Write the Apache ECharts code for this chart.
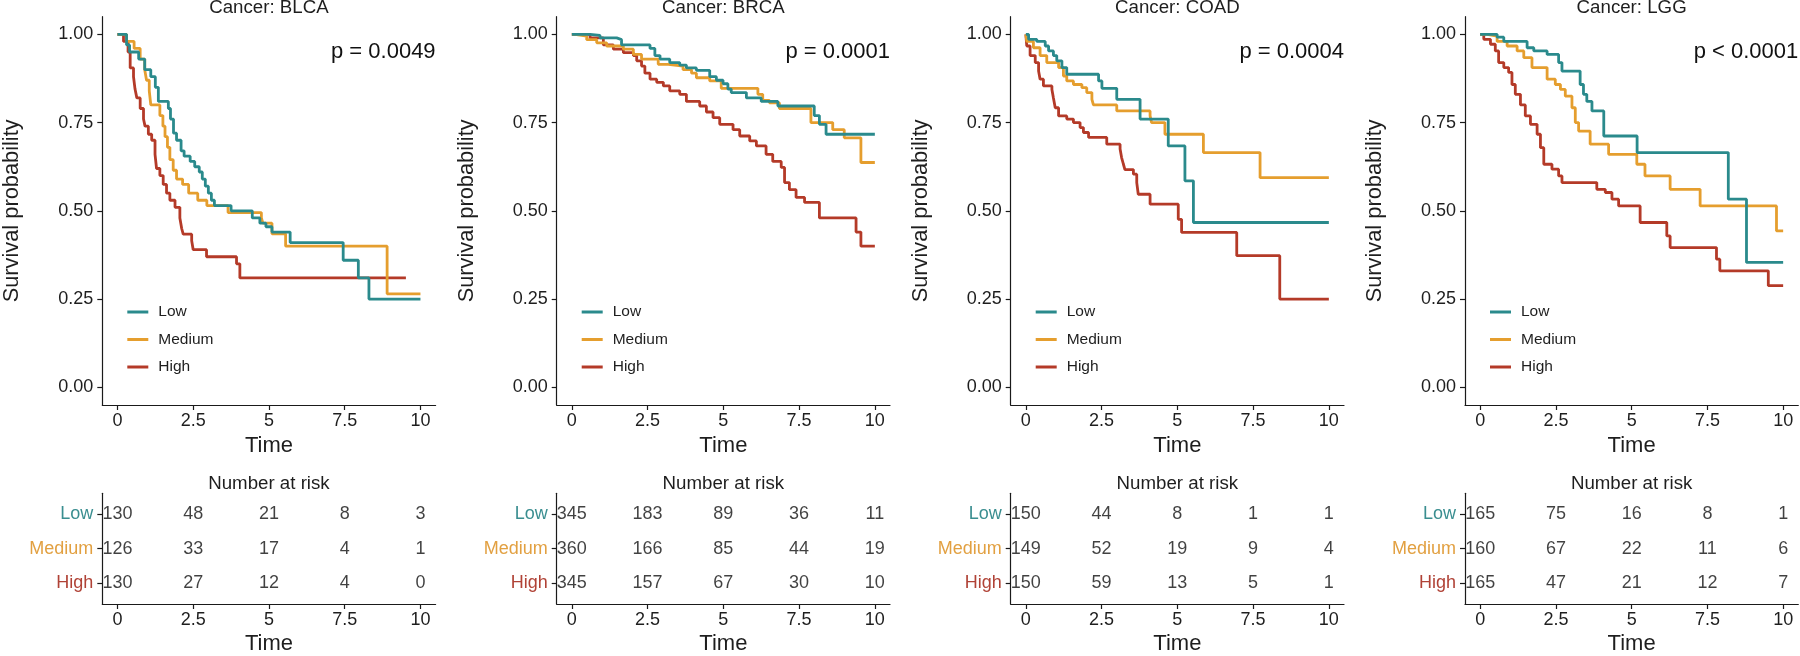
<!DOCTYPE html>
<html>
<head>
<meta charset="utf-8">
<script src="https://cdn.jsdelivr.net/npm/echarts@6/dist/echarts.min.js"></script>
<style>html,body{margin:0;padding:0;background:#fff}#c{width:1800px;height:656px}</style>
</head>
<body>
<div id="c"></div>
<script>
// ---------- data ----------
const cancers = ['BLCA', 'BRCA', 'COAD', 'LGG'];
const groups = ['Low', 'Medium', 'High'];
const groupColors = ['#2A8A8C', '#E59E2E', '#B43A28'];
const groupTextColors = ['#3A8E90', '#E2A041', '#B04236'];
const timeTicks = [0, 2.5, 5, 7.5, 10];
const survTicks = [0, 0.25, 0.5, 0.75, 1];
const pValues = ['p = 0.0049', 'p = 0.0001', 'p = 0.0004', 'p < 0.0001'];

// Kaplan-Meier curves: [time, survival]
const blcaLow = [[0,1],[0.3,0.97],[0.4,0.95],[0.7,0.93],[0.9,0.90],[1.1,0.88],[1.25,0.85],[1.35,0.81],[1.68,0.79],[1.75,0.76],[1.85,0.72],[1.95,0.70],[2.1,0.67],[2.2,0.655],[2.4,0.64],[2.55,0.625],[2.7,0.61],[2.8,0.59],[2.9,0.57],[3.0,0.55],[3.1,0.53],[3.2,0.515],[3.75,0.50],[4.45,0.48],[4.7,0.465],[4.9,0.455],[5.1,0.44],[5.7,0.41],[7.45,0.36],[7.95,0.31],[8.3,0.25],[10,0.25]];
const blcaMedium = [[0,1],[0.3,0.98],[0.55,0.96],[0.75,0.93],[0.9,0.90],[0.96,0.87],[1.05,0.84],[1.1,0.80],[1.4,0.77],[1.5,0.74],[1.57,0.71],[1.65,0.68],[1.73,0.645],[1.84,0.615],[1.95,0.59],[2.15,0.575],[2.35,0.55],[2.65,0.53],[2.95,0.515],[3.65,0.495],[4.75,0.48],[4.8,0.465],[5.1,0.435],[5.55,0.40],[8.9,0.265],[10,0.265]];
const blcaHigh = [[0,1],[0.2,0.98],[0.35,0.95],[0.42,0.905],[0.53,0.88],[0.58,0.845],[0.64,0.82],[0.75,0.79],[0.86,0.76],[0.91,0.74],[1.02,0.717],[1.13,0.70],[1.24,0.66],[1.29,0.62],[1.40,0.60],[1.51,0.575],[1.62,0.55],[1.73,0.53],[1.9,0.51],[2.06,0.48],[2.12,0.45],[2.17,0.434],[2.45,0.415],[2.5,0.39],[2.94,0.37],[3.93,0.35],[4.04,0.31],[9.52,0.31]];

const brcaLow = [[0,1],[0.6,0.997],[0.93,0.99],[1.48,0.985],[1.64,0.97],[2.58,0.96],[2.74,0.94],[2.91,0.93],[3.23,0.92],[3.56,0.913],[3.78,0.905],[4.11,0.898],[4.55,0.88],[4.77,0.87],[4.99,0.86],[5.15,0.845],[5.26,0.835],[5.76,0.82],[6.25,0.81],[6.8,0.797],[8.0,0.77],[8.17,0.745],[8.39,0.717],[10,0.717]];
const brcaMedium = [[0,1],[0.1,0.995],[0.49,0.985],[0.82,0.976],[1.15,0.967],[1.7,0.958],[2.03,0.943],[2.3,0.93],[2.85,0.915],[3.18,0.91],[3.67,0.90],[3.95,0.89],[4.11,0.877],[4.55,0.868],[4.93,0.847],[6.14,0.83],[6.3,0.813],[6.52,0.806],[6.85,0.79],[7.89,0.75],[8.61,0.73],[8.99,0.707],[9.54,0.637],[10,0.637]];
const brcaHigh = [[0,1],[0.6,0.99],[1.04,0.97],[1.37,0.958],[1.7,0.948],[2.03,0.94],[2.14,0.925],[2.3,0.91],[2.41,0.89],[2.58,0.873],[2.8,0.864],[3.02,0.854],[3.23,0.84],[3.56,0.83],[3.78,0.81],[4.22,0.797],[4.44,0.78],[4.66,0.764],[4.88,0.745],[5.32,0.73],[5.54,0.712],[5.87,0.698],[6.09,0.684],[6.41,0.66],[6.63,0.64],[6.91,0.623],[7.02,0.58],[7.18,0.56],[7.4,0.538],[7.68,0.524],[8.17,0.48],[9.38,0.44],[9.54,0.40],[10,0.40]];

const coadLow = [[0,1],[0.09,0.986],[0.36,0.98],[0.64,0.967],[0.75,0.953],[0.91,0.94],[1.02,0.925],[1.19,0.906],[1.35,0.887],[2.4,0.868],[2.51,0.847],[3.0,0.816],[3.77,0.76],[4.7,0.684],[5.25,0.585],[5.53,0.467],[10,0.467]];
const coadMedium = [[0,1],[0.03,0.98],[0.25,0.962],[0.47,0.94],[0.69,0.92],[1.08,0.906],[1.24,0.882],[1.35,0.868],[1.57,0.858],[1.85,0.849],[2.01,0.835],[2.18,0.816],[2.23,0.80],[3.0,0.783],[4.1,0.769],[4.15,0.75],[4.59,0.717],[5.86,0.665],[7.73,0.594],[10,0.594]];
const coadHigh = [[0,1],[0.03,0.967],[0.14,0.94],[0.31,0.92],[0.42,0.896],[0.47,0.873],[0.58,0.854],[0.86,0.844],[0.91,0.82],[0.97,0.792],[1.08,0.769],[1.35,0.76],[1.57,0.75],[1.79,0.736],[1.9,0.722],[2.07,0.708],[2.67,0.689],[3.11,0.675],[3.16,0.651],[3.22,0.632],[3.27,0.617],[3.55,0.604],[3.66,0.58],[3.71,0.547],[4.1,0.519],[5.03,0.476],[5.14,0.439],[6.96,0.373],[8.38,0.25],[10,0.25]];

const lggLow = [[0,1],[0.56,0.992],[0.78,0.98],[1.55,0.962],[1.77,0.953],[2.21,0.943],[2.59,0.92],[2.7,0.896],[3.3,0.858],[3.41,0.83],[3.52,0.81],[3.69,0.783],[4.08,0.712],[5.18,0.665],[8.19,0.533],[8.79,0.354],[10,0.354]];
const lggMedium = [[0,1],[0.23,0.995],[0.56,0.98],[0.89,0.967],[1.22,0.953],[1.44,0.934],[1.71,0.906],[2.21,0.873],[2.48,0.858],[2.65,0.844],[2.81,0.825],[3.03,0.792],[3.14,0.75],[3.25,0.726],[3.63,0.689],[4.24,0.66],[5.17,0.632],[5.44,0.599],[6.27,0.561],[7.26,0.514],[9.78,0.443],[10,0.443]];
const lggHigh = [[0,1],[0.12,0.986],[0.34,0.972],[0.5,0.953],[0.61,0.92],[0.78,0.906],[0.94,0.892],[1.05,0.858],[1.16,0.83],[1.33,0.80],[1.49,0.769],[1.66,0.745],[1.88,0.717],[1.99,0.679],[2.1,0.632],[2.37,0.618],[2.59,0.599],[2.7,0.58],[3.85,0.561],[4.13,0.552],[4.35,0.533],[4.57,0.514],[5.28,0.467],[6.16,0.429],[6.27,0.396],[7.8,0.363],[7.91,0.33],[9.51,0.288],[10,0.288]];

// Number at risk at times 0, 2.5, 5, 7.5, 10
const riskBlcaLow = [130, 48, 21, 8, 3];
const riskBlcaMedium = [126, 33, 17, 4, 1];
const riskBlcaHigh = [130, 27, 12, 4, 0];
const riskBrcaLow = [345, 183, 89, 36, 11];
const riskBrcaMedium = [360, 166, 85, 44, 19];
const riskBrcaHigh = [345, 157, 67, 30, 10];
const riskCoadLow = [150, 44, 8, 1, 1];
const riskCoadMedium = [149, 52, 19, 9, 4];
const riskCoadHigh = [150, 59, 13, 5, 1];
const riskLggLow = [165, 75, 16, 8, 1];
const riskLggMedium = [160, 67, 22, 11, 6];
const riskLggHigh = [165, 47, 21, 12, 7];

const curves = [
  [blcaLow, blcaMedium, blcaHigh],
  [brcaLow, brcaMedium, brcaHigh],
  [coadLow, coadMedium, coadHigh],
  [lggLow, lggMedium, lggHigh]
];
const risks = [
  [riskBlcaLow, riskBlcaMedium, riskBlcaHigh],
  [riskBrcaLow, riskBrcaMedium, riskBrcaHigh],
  [riskCoadLow, riskCoadMedium, riskCoadHigh],
  [riskLggLow, riskLggMedium, riskLggHigh]
];

// ---------- layout ----------
const FONT = 'Liberation Sans, Arial, Helvetica, sans-serif';
const TXT = '#1e1e1e';
const AX = '#1a1a1a';
const gridLefts = [102.3, 556.7, 1010.7, 1465];
const gridW = 333.3;
const mainTop = 16.7, mainH = 388.3;
const riskTop = 493.3, riskH = 115;

const grid = [], xAxis = [], yAxis = [], series = [], title = [], legend = [];

function xAx(gi, gap) {
  return {
    type: 'value', gridIndex: gi, min: -0.5, max: 10.5,
    splitLine: {show: false},
    axisLine: {onZero: false, lineStyle: {color: AX, width: 1.2}},
    axisTick: {show: true, length: 5, lineStyle: {color: AX, width: 1.2}, customValues: timeTicks},
    axisLabel: {customValues: timeTicks, fontSize: 18, color: TXT, fontFamily: FONT, margin: 7,
      formatter: v => String(v)},
    name: 'Time', nameLocation: 'middle', nameGap: gap,
    nameTextStyle: {fontSize: 22, color: TXT, fontFamily: FONT}
  };
}

cancers.forEach((c, p) => {
  const left = gridLefts[p];
  grid.push({left: left, top: mainTop, width: gridW, height: mainH, containLabel: false});
  grid.push({left: left, top: riskTop, width: gridW, height: riskH, containLabel: false});
  const gMain = p * 2, gRisk = p * 2 + 1;

  xAxis.push(xAx(gMain, 27));
  xAxis.push(xAx(gRisk, 29));

  yAxis.push({
    type: 'value', gridIndex: gMain, min: -0.05, max: 1.05,
    splitLine: {show: false},
    axisLine: {show: true, onZero: false, lineStyle: {color: AX, width: 1.2}},
    axisTick: {show: true, length: 5, lineStyle: {color: AX, width: 1.2}, customValues: survTicks},
    axisLabel: {customValues: survTicks, fontSize: 18, color: TXT, fontFamily: FONT, margin: 9,
      formatter: v => Number(v).toFixed(2)},
    name: 'Survival probability', nameLocation: 'middle', nameGap: 79,
    nameTextStyle: {fontSize: 21.8, color: TXT, fontFamily: FONT}
  });
  const rich = {};
  groups.forEach((g, i) => { rich['g' + i] = {color: groupTextColors[i], fontSize: 18, fontFamily: FONT}; });
  yAxis.push({
    type: 'value', gridIndex: gRisk, min: 0.4, max: 3.6, inverse: true,
    splitLine: {show: false},
    axisLine: {show: true, onZero: false, lineStyle: {color: AX, width: 1.2}},
    axisTick: {show: true, length: 5, lineStyle: {color: AX, width: 1.2}, customValues: [1, 2, 3]},
    axisLabel: {customValues: [1, 2, 3], margin: 9, rich: rich,
      formatter: v => '{g' + (Math.round(v) - 1) + '|' + groups[Math.round(v) - 1] + '}'}
  });

  groups.forEach((g, gi) => {
    series.push({
      type: 'line', name: g, xAxisIndex: gMain, yAxisIndex: gMain,
      step: 'end', data: curves[p][gi], showSymbol: false, symbol: 'none',
      lineStyle: {color: groupColors[gi], width: 2.8}, itemStyle: {color: groupColors[gi]},
      animation: false, silent: true, z: 5 - gi
    });
    series.push({
      type: 'scatter', name: 'risk-' + g, xAxisIndex: gRisk, yAxisIndex: gRisk,
      data: timeTicks.map((t, k) => [t, gi + 1, risks[p][gi][k]]),
      symbol: 'circle', symbolSize: 1, itemStyle: {color: 'rgba(0,0,0,0)'},
      label: {show: true, position: 'inside', formatter: d => String(d.value[2]),
        fontSize: 18, color: '#111', fontFamily: FONT},
      animation: false, silent: true
    });
  });

  const cx = left + gridW / 2;
  title.push({text: 'Cancer: ' + c, left: cx, top: -2, textAlign: 'center', padding: 0,
    textStyle: {fontSize: 18.7, fontWeight: 'normal', color: TXT, fontFamily: FONT}});
  title.push({text: 'Number at risk', left: cx, top: 474.5, textAlign: 'center', padding: 0,
    textStyle: {fontSize: 18.7, fontWeight: 'normal', color: TXT, fontFamily: FONT}});
  title.push({text: pValues[p], left: left + gridW, top: 41.3, textAlign: 'right', padding: 0,
    textStyle: {fontSize: 22, fontWeight: 'normal', color: '#111', fontFamily: FONT}});

  legend.push({
    data: groups.map((g, i) => ({name: g, icon: 'rect', itemStyle: {color: groupColors[i]}})),
    orient: 'vertical', left: left + 25, top: 304, padding: 0,
    itemWidth: 21, itemHeight: 3, itemGap: 11.5, selectedMode: false,
    textStyle: {fontSize: 15.5, color: TXT, fontFamily: FONT, padding: [0, 0, 0, 5]}
  });
});

const chart = echarts.init(document.getElementById('c'), null, {renderer: 'canvas'});
chart.setOption({
  backgroundColor: '#fff', animation: false,
  title, legend, grid, xAxis, yAxis, series
});
</script>
</body>
</html>
